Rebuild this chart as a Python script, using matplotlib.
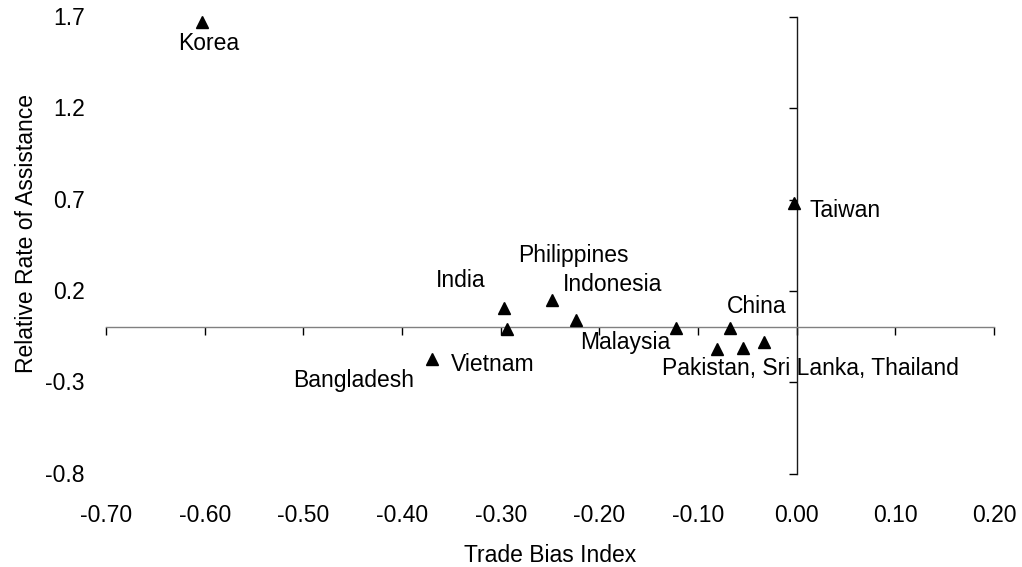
import matplotlib
matplotlib.use('Agg')
import matplotlib.pyplot as plt

plt.rcParams['font.family'] = ['Liberation Sans', 'DejaVu Sans']

# ---- data ----
countries = ['Korea', 'Taiwan', 'India', 'Philippines', 'Indonesia', 'Malaysia',
             'China', 'Vietnam', 'Bangladesh', 'Pakistan', 'Sri Lanka', 'Thailand']
trade_bias = [-0.603, -0.003, -0.297, -0.248, -0.224, -0.122,
              -0.068, -0.370, -0.294, -0.081, -0.054, -0.033]
rel_rate_assist = [1.675, 0.684, 0.109, 0.153, 0.040, -0.002,
                   -0.002, -0.173, -0.011, -0.117, -0.111, -0.080]
point_labels = ['Korea', 'Taiwan', 'India', 'Philippines', 'Indonesia', 'Malaysia',
                'China', 'Vietnam', 'Bangladesh', 'Pakistan, Sri Lanka, Thailand', '', '']

x_ticks = [-0.70, -0.60, -0.50, -0.40, -0.30, -0.20, -0.10, 0.00, 0.10, 0.20]
x_tick_labels = ['-0.70', '-0.60', '-0.50', '-0.40', '-0.30', '-0.20', '-0.10',
                 '0.00', '0.10', '0.20']
y_ticks = [-0.8, -0.3, 0.2, 0.7, 1.2, 1.7]
y_tick_labels = ['-0.8', '-0.3', '0.2', '0.7', '1.2', '1.7']

x_title = 'Trade Bias Index'
y_title = 'Relative Rate of Assistance'

# label placement (pixel offsets of text centre / baseline from each point)
label_offsets = [(6.5, -28), (51.5, -14), (-43, 21), (21.5, 38), (36.5, 29),
                 (-51.5, -21), (27, 15), (61.5, -12), (-153, -58), (93.5, -26),
                 (0, 0), (0, 0)]

FS = 16.5

fig = plt.figure(figsize=(10.22, 5.67), dpi=100)
ax = fig.add_axes([106 / 1022, 1 - 473.6 / 567, 888 / 1022, 456.6 / 567])

ax.plot(trade_bias, rel_rate_assist, linestyle='none', marker='^',
        markersize=8.5, color='black', clip_on=False, zorder=5)

ax.set_xlim(x_ticks[0], x_ticks[-1])
ax.set_ylim(y_ticks[0], y_ticks[-1])

for s in ['top', 'right']:
    ax.spines[s].set_visible(False)
ax.spines['left'].set_position(('data', 0))
ax.spines['bottom'].set_position(('data', 0))
ax.spines['bottom'].set_color('#808080')
ax.spines['left'].set_color('#1a1a1a')
for s in ['left', 'bottom']:
    ax.spines[s].set_linewidth(1.0)

ax.set_xticks(x_ticks)
ax.set_yticks(y_ticks)
ax.tick_params(axis='both', direction='out', length=5.5, width=1.0,
               color='black', labelbottom=False, labelleft=False)

# tick labels placed at the bottom / left of the plotting area
for v, t in zip(x_ticks, x_tick_labels):
    ax.annotate(t, xy=(v, 0), xycoords=('data', 'axes fraction'),
                xytext=(0, -48), textcoords='offset pixels',
                ha='center', va='baseline', fontsize=FS)
for v, t in zip(y_ticks, y_tick_labels):
    ax.annotate(t, xy=(0, v), xycoords=('axes fraction', 'data'),
                xytext=(-21, -8), textcoords='offset pixels',
                ha='right', va='baseline', fontsize=FS)

ax.annotate(x_title, xy=(0.5, 0), xycoords='axes fraction',
            xytext=(0, -88), textcoords='offset pixels',
            ha='center', va='baseline', fontsize=FS)
ax.annotate(y_title, xy=(0, 0.5), xycoords='axes fraction',
            xytext=(-73, 12), textcoords='offset pixels',
            ha='center', va='baseline', rotation=90, rotation_mode='anchor',
            fontsize=FS)

for x, y, lab, off in zip(trade_bias, rel_rate_assist, point_labels, label_offsets):
    if lab:
        ax.annotate(lab, xy=(x, y), xytext=off, textcoords='offset pixels',
                    ha='center', va='baseline', fontsize=FS, zorder=6)

fig.savefig('out.png', dpi=100, facecolor='white')
